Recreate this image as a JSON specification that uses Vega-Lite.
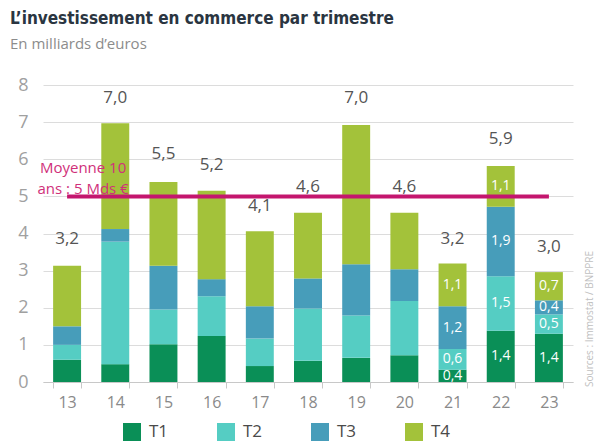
{
  "$schema": "https://vega.github.io/schema/vega-lite/v6.json",
  "autosize": "none",
  "width": 530,
  "height": 297,
  "padding": {"left": 43, "top": 85, "right": 28, "bottom": 66},
  "title": {
    "text": "L’investissement en commerce par trimestre",
    "subtitle": "En milliards d’euros",
    "anchor": "start",
    "frame": "group",
    "dx": -33,
    "offset": 23,
    "font": "DejaVu Sans Condensed, Roboto, sans-serif",
    "fontSize": 17,
    "fontWeight": "bold",
    "color": "#2a3541",
    "subtitleFont": "Open Sans",
    "subtitleFontSize": 15,
    "subtitleColor": "#8c8c8c",
    "subtitlePadding": 9
  },
  "datasets": {
    "bars": [
      {"year": "13", "quarter": "T1", "value": 0.6, "label": ""},
      {"year": "13", "quarter": "T2", "value": 0.4, "label": ""},
      {"year": "13", "quarter": "T3", "value": 0.5, "label": ""},
      {"year": "13", "quarter": "T4", "value": 1.63, "label": ""},
      {"year": "14", "quarter": "T1", "value": 0.48, "label": ""},
      {"year": "14", "quarter": "T2", "value": 3.3, "label": ""},
      {"year": "14", "quarter": "T3", "value": 0.34, "label": ""},
      {"year": "14", "quarter": "T4", "value": 2.85, "label": ""},
      {"year": "15", "quarter": "T1", "value": 1.02, "label": ""},
      {"year": "15", "quarter": "T2", "value": 0.93, "label": ""},
      {"year": "15", "quarter": "T3", "value": 1.18, "label": ""},
      {"year": "15", "quarter": "T4", "value": 2.26, "label": ""},
      {"year": "16", "quarter": "T1", "value": 1.24, "label": ""},
      {"year": "16", "quarter": "T2", "value": 1.07, "label": ""},
      {"year": "16", "quarter": "T3", "value": 0.46, "label": ""},
      {"year": "16", "quarter": "T4", "value": 2.38, "label": ""},
      {"year": "17", "quarter": "T1", "value": 0.43, "label": ""},
      {"year": "17", "quarter": "T2", "value": 0.74, "label": ""},
      {"year": "17", "quarter": "T3", "value": 0.87, "label": ""},
      {"year": "17", "quarter": "T4", "value": 2.02, "label": ""},
      {"year": "18", "quarter": "T1", "value": 0.57, "label": ""},
      {"year": "18", "quarter": "T2", "value": 1.41, "label": ""},
      {"year": "18", "quarter": "T3", "value": 0.81, "label": ""},
      {"year": "18", "quarter": "T4", "value": 1.77, "label": ""},
      {"year": "19", "quarter": "T1", "value": 0.65, "label": ""},
      {"year": "19", "quarter": "T2", "value": 1.14, "label": ""},
      {"year": "19", "quarter": "T3", "value": 1.38, "label": ""},
      {"year": "19", "quarter": "T4", "value": 3.75, "label": ""},
      {"year": "20", "quarter": "T1", "value": 0.72, "label": ""},
      {"year": "20", "quarter": "T2", "value": 1.46, "label": ""},
      {"year": "20", "quarter": "T3", "value": 0.86, "label": ""},
      {"year": "20", "quarter": "T4", "value": 1.52, "label": ""},
      {"year": "21", "quarter": "T1", "value": 0.33, "label": "0,4"},
      {"year": "21", "quarter": "T2", "value": 0.56, "label": "0,6"},
      {"year": "21", "quarter": "T3", "value": 1.15, "label": "1,2"},
      {"year": "21", "quarter": "T4", "value": 1.15, "label": "1,1"},
      {"year": "22", "quarter": "T1", "value": 1.38, "label": "1,4"},
      {"year": "22", "quarter": "T2", "value": 1.47, "label": "1,5"},
      {"year": "22", "quarter": "T3", "value": 1.87, "label": "1,9"},
      {"year": "22", "quarter": "T4", "value": 1.1, "label": "1,1"},
      {"year": "23", "quarter": "T1", "value": 1.3, "label": "1,4"},
      {"year": "23", "quarter": "T2", "value": 0.52, "label": "0,5"},
      {"year": "23", "quarter": "T3", "value": 0.38, "label": "0,4"},
      {"year": "23", "quarter": "T4", "value": 0.76, "label": "0,7"}
    ],
    "totals": [
      {"year": "13", "total": 3.2, "label": "3,2"},
      {"year": "14", "total": 7.0, "label": "7,0"},
      {"year": "15", "total": 5.5, "label": "5,5"},
      {"year": "16", "total": 5.2, "label": "5,2"},
      {"year": "17", "total": 4.1, "label": "4,1"},
      {"year": "18", "total": 4.6, "label": "4,6"},
      {"year": "19", "total": 7.0, "label": "7,0"},
      {"year": "20", "total": 4.6, "label": "4,6"},
      {"year": "21", "total": 3.2, "label": "3,2"},
      {"year": "22", "total": 5.9, "label": "5,9"},
      {"year": "23", "total": 3.0, "label": "3,0"}
    ],
    "avg": [
      {"from": "13", "to": "23", "avg": 5, "note": "Moyenne 10\nans : 5 Mds €"}
    ],
    "src": [
      {"year": "23", "base": 0, "note": "Sources : Immostat / BNPPRE"}
    ]
  },
  "data": {"name": "bars"},
  "encoding": {
    "x": {
      "field": "year",
      "type": "ordinal",
      "scale": {"paddingInner": 0.42, "paddingOuter": 0.21},
      "axis": {
        "title": null,
        "labelAngle": 0,
        "domainColor": "#c8c8c8",
        "tickColor": "#c8c8c8",
        "tickBand": "extent",
        "tickSize": 6,
        "labelFontSize": 16,
        "labelColor": "#8a8a8a",
        "labelPadding": 6,
        "grid": false
      }
    }
  },
  "layer": [
    {
      "mark": {"type": "bar"},
      "encoding": {
        "y": {
          "field": "value",
          "type": "quantitative",
          "aggregate": "sum",
          "stack": "zero",
          "scale": {"domain": [0, 8], "nice": false},
          "axis": {
            "title": null,
            "values": [0, 1, 2, 3, 4, 5, 6, 7, 8],
            "tickCount": 12,
            "format": "d",
            "labelOverlap": false,
            "domain": false,
            "ticks": false,
            "grid": true,
            "gridColor": "#dcdcdc",
            "labelFontSize": 18,
            "labelColor": "#a0a0a0",
            "labelPadding": 15
          }
        },
        "color": {
          "field": "quarter",
          "type": "nominal",
          "scale": {
            "domain": ["T1", "T2", "T3", "T4"],
            "range": ["#0a8f57", "#55cdc3", "#479dba", "#a3c23a"]
          },
          "legend": {
            "title": null,
            "orient": "none",
            "legendX": 80,
            "legendY": 338,
            "direction": "horizontal",
            "columns": 4,
            "columnPadding": 48,
            "symbolType": "square",
            "symbolSize": 324,
            "symbolStrokeWidth": 0,
            "symbolOpacity": 1,
            "labelFontSize": 17,
            "labelColor": "#4a4a4a",
            "labelOffset": 8
          }
        },
        "order": {"field": "quarter", "sort": "ascending"}
      }
    },
    {
      "transform": [
        {"stack": "value", "groupby": ["year"], "sort": [{"field": "quarter", "order": "ascending"}], "as": ["v0", "v1"]},
        {"filter": "datum.label != ''"},
        {"fold": ["v0", "v1"], "as": ["edge", "pos"]}
      ],
      "mark": {"type": "text", "fontSize": 14, "color": "#ffffff", "baseline": "middle", "align": "center"},
      "encoding": {
        "y": {"field": "pos", "type": "quantitative", "aggregate": "mean"},
        "text": {"field": "label", "type": "nominal"},
        "detail": {"field": "quarter", "type": "nominal"}
      }
    },
    {
      "data": {"name": "totals"},
      "mark": {"type": "text", "fontSize": 17, "color": "#555555", "baseline": "middle", "dy": -24},
      "encoding": {
        "y": {"field": "total", "type": "quantitative"},
        "text": {"field": "label", "type": "nominal"}
      }
    },
    {
      "data": {"name": "avg"},
      "mark": {"type": "rule", "color": "#c4166e", "strokeWidth": 4},
      "encoding": {
        "x": {"field": "from", "type": "ordinal"},
        "x2": {"field": "to"},
        "y": {"field": "avg", "type": "quantitative"}
      }
    },
    {
      "data": {"name": "avg"},
      "mark": {"type": "text", "lineBreak": "\n", "fontSize": 15, "color": "#d0307a", "align": "center", "baseline": "top", "dx": 16, "dy": -35, "lineHeight": 21},
      "encoding": {
        "x": {"field": "from", "type": "ordinal"},
        "y": {"field": "avg", "type": "quantitative"},
        "text": {"field": "note", "type": "nominal"}
      }
    },
    {
      "data": {"name": "src"},
      "mark": {"type": "text", "angle": 270, "align": "left", "baseline": "middle", "fontSize": 10, "color": "#c0c0c0", "xOffset": 41, "yOffset": 5},
      "encoding": {
        "x": {"field": "year", "type": "ordinal"},
        "y": {"field": "base", "type": "quantitative"},
        "text": {"field": "note", "type": "nominal"}
      }
    }
  ],
  "config": {
    "font": "Open Sans",
    "view": {"stroke": null}
  }
}
